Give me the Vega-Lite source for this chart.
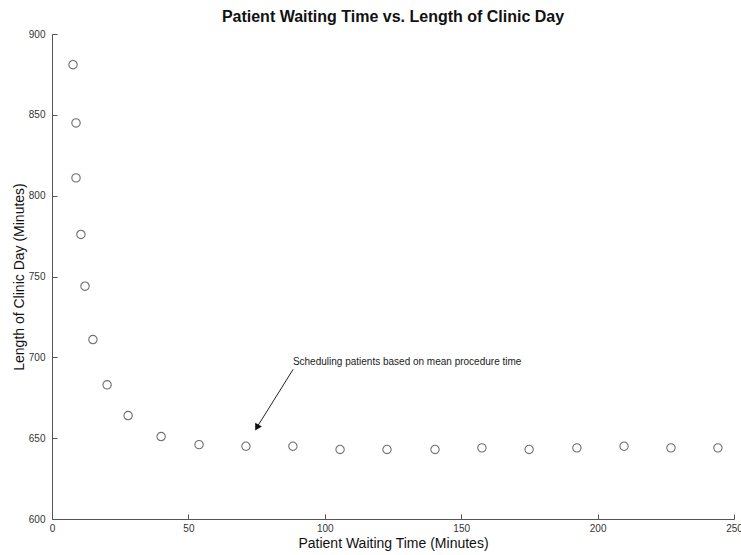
{
  "$schema": "https://vega.github.io/schema/vega-lite/v6.json",
  "autosize": "none",
  "width": 682,
  "height": 485,
  "padding": {"left": 52, "top": 34, "right": 7, "bottom": 36},
  "background": "white",
  "config": {
    "view": {"stroke": null},
    "font": "Liberation Sans",
    "axis": {
      "grid": false,
      "domainColor": "#555",
      "tickColor": "#555",
      "labelColor": "#333",
      "labelFont": "Liberation Sans",
      "labelFontSize": 10,
      "titleFont": "Liberation Sans",
      "titleFontSize": 14,
      "titleFontWeight": "normal",
      "titleColor": "#111",
      "tickSize": -5
    }
  },
  "title": {
    "text": "Patient Waiting Time vs. Length of Clinic Day",
    "font": "Liberation Sans",
    "fontSize": 16,
    "fontWeight": "bold",
    "color": "#111",
    "anchor": "middle",
    "offset": 4
  },
  "datasets": {
    "points": [
      {"wait": 7.7, "day": 881},
      {"wait": 8.8, "day": 845},
      {"wait": 8.8, "day": 811},
      {"wait": 10.6, "day": 776},
      {"wait": 12.1, "day": 744},
      {"wait": 15.0, "day": 711},
      {"wait": 20.2, "day": 683},
      {"wait": 27.9, "day": 664},
      {"wait": 40.0, "day": 651},
      {"wait": 53.9, "day": 646},
      {"wait": 71.1, "day": 645},
      {"wait": 88.3, "day": 645},
      {"wait": 105.6, "day": 643},
      {"wait": 122.8, "day": 643},
      {"wait": 140.4, "day": 643},
      {"wait": 157.6, "day": 644},
      {"wait": 174.9, "day": 643},
      {"wait": 192.4, "day": 644},
      {"wait": 209.7, "day": 645},
      {"wait": 226.9, "day": 644},
      {"wait": 244.1, "day": 644}
    ]
  },
  "layer": [
    {
      "data": {"name": "points"},
      "mark": {"type": "point", "shape": "circle", "filled": false, "stroke": "#333", "strokeWidth": 1.1, "size": 70},
      "encoding": {
        "x": {
          "field": "wait", "type": "quantitative",
          "scale": {"domain": [0, 250], "nice": false, "zero": false},
          "axis": {"title": "Patient Waiting Time (Minutes)", "values": [0, 50, 100, 150, 200, 250], "labelPadding": 9, "titlePadding": 3, "labelFlush": false}
        },
        "y": {
          "field": "day", "type": "quantitative",
          "scale": {"domain": [600, 900], "nice": false, "zero": false},
          "axis": {"title": "Length of Clinic Day (Minutes)", "values": [600, 650, 700, 750, 800, 850, 900], "labelPadding": 12, "titlePadding": 2, "labelFlush": false}
        }
      }
    },
    {
      "data": {"values": [{"x1": 88.4, "y1": 692.6, "x2": 75.3, "y2": 657.2}]},
      "mark": {"type": "rule", "color": "#222", "strokeWidth": 1},
      "encoding": {
        "x": {"field": "x1", "type": "quantitative"},
        "y": {"field": "y1", "type": "quantitative"},
        "x2": {"field": "x2"},
        "y2": {"field": "y2"}
      }
    },
    {
      "data": {"values": [{"x": 75.3, "y": 657.2}]},
      "mark": {"type": "point", "shape": "triangle", "filled": true, "color": "#111", "size": 60, "angle": 210, "opacity": 1},
      "encoding": {
        "x": {"field": "x", "type": "quantitative"},
        "y": {"field": "y", "type": "quantitative"}
      }
    },
    {
      "data": {"values": [{"x": 88.3, "y": 696.9, "label": "Scheduling patients based on mean procedure time"}]},
      "mark": {"type": "text", "align": "left", "baseline": "middle", "fontSize": 10, "font": "Liberation Sans", "color": "#222"},
      "encoding": {
        "x": {"field": "x", "type": "quantitative"},
        "y": {"field": "y", "type": "quantitative"},
        "text": {"field": "label"}
      }
    }
  ]
}
